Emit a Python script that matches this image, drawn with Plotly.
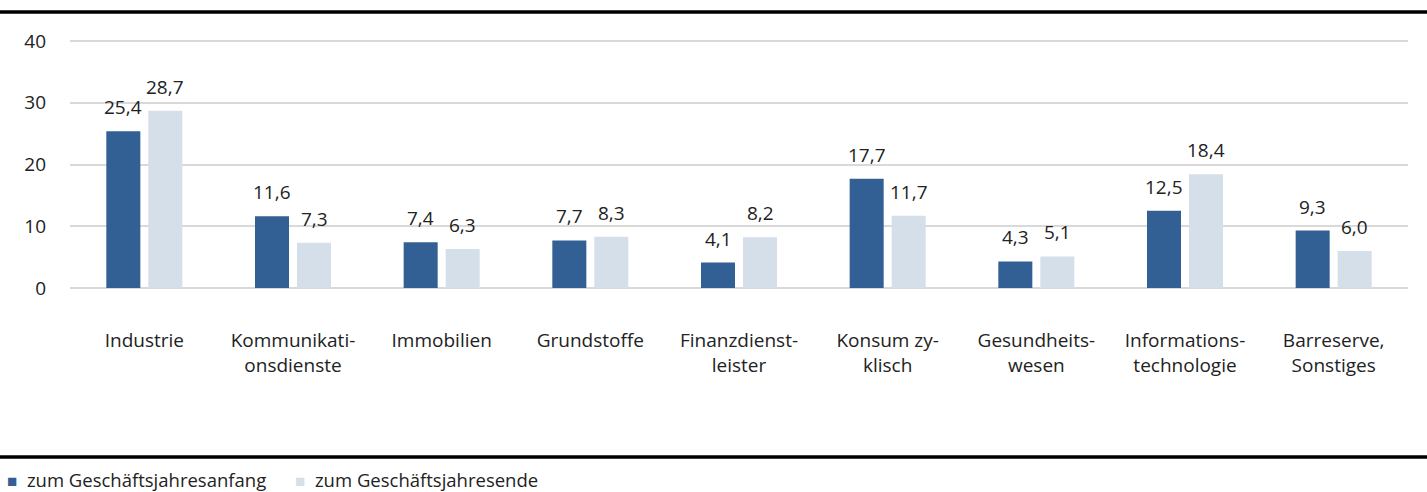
import plotly.graph_objects as go

categories = ["Industrie", "Kommunikati-<br>onsdienste", "Immobilien", "Grundstoffe",
              "Finanzdienst-<br>leister", "Konsum zy-<br>klisch", "Gesundheits-<br>wesen",
              "Informations-<br>technologie", "Barreserve,<br>Sonstiges"]
anfang = [25.4, 11.6, 7.4, 7.7, 4.1, 17.7, 4.3, 12.5, 9.3]
ende = [28.7, 7.3, 6.3, 8.3, 8.2, 11.7, 5.1, 18.4, 6.0]
series_names = ["zum Geschäftsjahresanfang", "zum Geschäftsjahresende"]
colors = ["#336094", "#d5dfe9"]
y_ticks = [0, 10, 20, 30, 40]

FONT = "Open Sans"
FS = 19
TXT = "#222222"
W, H = 1427, 492
L, R, T, B = 70, 19, 38, 201
pw = W - L - R
ph = H - T - B
BAR_OFFSET = 21  # px from category centre to bar centre

def fmt(v):
    return f"{v:.1f}".replace(".", ",")

def py(pix):
    return (H - B - pix) / ph

def px(pix):
    return (pix - L) / pw

fig = go.Figure()
for name, vals, col in [(series_names[0], anfang, colors[0]), (series_names[1], ende, colors[1])]:
    fig.add_trace(go.Bar(x=categories, y=vals, name=name, marker_color=col, marker_line_width=0))

annotations = []
for sign, vals in [(-1, anfang), (1, ende)]:
    for c, v in zip(categories, vals):
        annotations.append(dict(x=c, y=v, text=fmt(v), showarrow=False, xanchor="center",
                                yanchor="bottom", xshift=sign * BAR_OFFSET, yshift=9,
                                font=dict(family=FONT, size=FS, color=TXT)))

sq = "font-size:17px"
legend_text = (f"<span style='color:{colors[0]};{sq}'>■</span>&nbsp; {series_names[0]}"
               f"&nbsp;&nbsp;&nbsp;&nbsp;&nbsp;&nbsp;<span style='color:{colors[1]};{sq}'>■</span>&nbsp; {series_names[1]}")
annotations.append(dict(text=legend_text, xref="paper", yref="paper", x=px(6), y=py(479),
                        xanchor="left", yanchor="middle", showarrow=False, borderpad=0,
                        font=dict(family=FONT, size=18.5, color=TXT)))

fig.update_layout(
    width=W, height=H, barmode="group", bargap=0.435, bargroupgap=0.19,
    margin=dict(l=L, r=R, t=T, b=B, autoexpand=False),
    plot_bgcolor="white", paper_bgcolor="white",
    font=dict(family=FONT, size=FS, color=TXT),
    showlegend=False,
    xaxis=dict(showgrid=False, showline=False, ticks="", ticklabelstandoff=36,
               tickfont=dict(family=FONT, size=FS, color=TXT)),
    yaxis=dict(range=[-0.5, 40.5], tickvals=y_ticks, showgrid=True, gridcolor="#d9d9d9", gridwidth=2,
               zeroline=False, showline=False, ticks="", ticklabelstandoff=23,
               tickfont=dict(family=FONT, size=FS, color=TXT)),
    shapes=[
        dict(type="line", xref="paper", yref="paper", x0=px(0), x1=px(W),
             y0=py(12), y1=py(12), line=dict(color="black", width=3.5)),
        dict(type="line", xref="paper", yref="paper", x0=px(0), x1=px(W),
             y0=py(457), y1=py(457), line=dict(color="black", width=3.5)),
    ],
    annotations=annotations,
)
fig.write_html("out.html", config={"displayModeBar": False},
               post_script="document.body.style.margin='0';")
